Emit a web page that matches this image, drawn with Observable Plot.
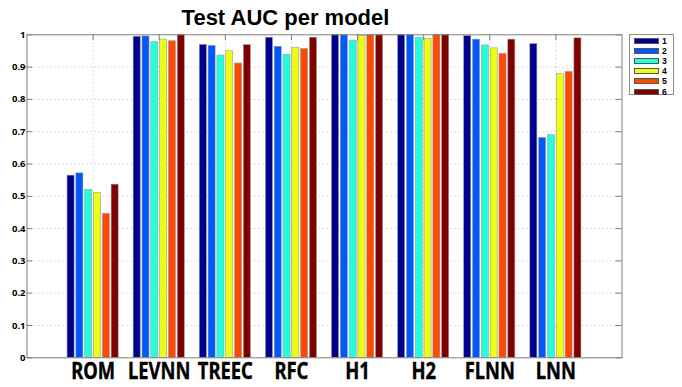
<!DOCTYPE html>
<html>
<head>
<meta charset="utf-8">
<script src="https://cdn.jsdelivr.net/npm/d3@7"></script>
<script src="https://cdn.jsdelivr.net/npm/@observablehq/plot@0.6"></script>
<style>
  html, body { margin: 0; padding: 0; background: #fff; }
  #wrap { position: relative; width: 682px; height: 387px; overflow: hidden; font-family: "Liberation Sans", Arial, sans-serif; }
  #wrap svg { position: absolute; left: 0; top: 0; }
  #title { position: absolute; top: 7px; left: 0; width: 571px; text-align: center; font-size: 22px; line-height: 22px; font-weight: bold; color: #000; }
  #legend { position: absolute; left: 629px; top: 34px; width: 45px; height: 61px; border: 1px solid #8a8a8a; background: #fff; box-sizing: border-box; }
  .sw { position: absolute; width: 25px; height: 6px; border: 0.6px solid #555; box-sizing: border-box; }
  .lb { position: absolute; font-size: 8.6px; font-weight: bold; line-height: 8.6px; color: #000; }
</style>
</head>
<body>
<div id="wrap">
  <div id="title">Test AUC per model</div>
  <div id="legend"></div>
</div>
<script>
// ---- data ----
const models = ["ROM", "LEVNN", "TREEC", "RFC", "H1", "H2", "FLNN", "LNN"];
const seriesNames = ["1", "2", "3", "4", "5", "6"];
const auc1 = [0.564, 0.994, 0.969, 0.991, 1.000, 1.000, 0.996, 0.971];
const auc2 = [0.571, 0.995, 0.966, 0.963, 0.999, 1.000, 0.985, 0.681];
const auc3 = [0.520, 0.977, 0.936, 0.938, 0.982, 0.990, 0.967, 0.689];
const auc4 = [0.511, 0.985, 0.949, 0.960, 0.996, 0.988, 0.958, 0.878];
const auc5 = [0.446, 0.980, 0.911, 0.956, 1.000, 1.000, 0.941, 0.885];
const auc6 = [0.536, 1.000, 0.968, 0.991, 1.000, 1.000, 0.985, 0.989];
const yTicks = [0, 0.1, 0.2, 0.3, 0.4, 0.5, 0.6, 0.7, 0.8, 0.9, 1];
const colors = ["#00008F", "#0059FF", "#23FFDC", "#ECFF13", "#FF4900", "#800000"];

// ---- table ----
const allSeries = [auc1, auc2, auc3, auc4, auc5, auc6];
const groupPos = models.map((m, i) => i + 1);
const pitch = 0.8 / seriesNames.length;
const barW = 0.8 * pitch;
const rows = [];
models.forEach((m, g) => {
  allSeries.forEach((vals, s) => {
    const c = (g + 1) + (s - (seriesNames.length - 1) / 2) * pitch;
    rows.push({model: m, series: seriesNames[s], value: vals[g], x1: c - barW / 2, x2: c + barW / 2});
  });
});

const W = 682, H = 387;
const mL = 26.5, mR = 60.5, mT = 34.3, mB = 29.7;
const pw = W - mL - mR, ph = H - mT - mB;
const tick = 6;
const axisGray = "#7f7f7f";

const chart = Plot.plot({
  width: W,
  height: H,
  marginLeft: mL,
  marginRight: mR,
  marginTop: mT,
  marginBottom: mB,
  style: {background: "transparent", overflow: "visible"},
  x: {type: "linear", domain: [0, 9], axis: null},
  y: {domain: [0, 1], axis: null},
  color: {domain: seriesNames, range: colors},
  marks: [
    Plot.ruleY(yTicks.slice(1, -1), {stroke: "#b8b8b8", strokeWidth: 1, strokeDasharray: "1,3"}),
    Plot.ruleX(groupPos, {stroke: "#b8b8b8", strokeWidth: 1, strokeDasharray: "1,3"}),
    Plot.rectY(rows, {x1: "x1", x2: "x2", y1: 0, y2: "value", fill: "series", stroke: "#9a9a9a", strokeWidth: 0.6}),
    Plot.ruleY(yTicks, {stroke: axisGray, insetRight: pw - tick}),
    Plot.ruleY(yTicks, {stroke: axisGray, insetLeft: pw - tick}),
    Plot.ruleX(groupPos, {stroke: axisGray, insetBottom: ph - tick}),
    Plot.frame({stroke: axisGray, strokeWidth: 1}),
    Plot.axisY({ticks: yTicks, tickSize: 0, tickPadding: 1.5, fontSize: 9.5, fontWeight: "bold", fill: "#000",
      label: null, tickFormat: d => String(+d.toFixed(1))}),
    Plot.axisX({ticks: groupPos, tickSize: 0, tickPadding: 4.5, fontSize: 23, fontWeight: "bold", fill: "#000",
      label: null, tickFormat: d => models[Math.round(d) - 1]})
  ]
});

const wrap = document.getElementById("wrap");
wrap.insertBefore(chart, wrap.firstChild);

// condense the big category labels horizontally
chart.querySelectorAll('g[aria-label="x-axis tick label"] text').forEach(t => {
  const tr = t.getAttribute("transform") || "";
  t.setAttribute("transform", tr + " scale(0.8,1)");
  t.setAttribute("stroke", "#000");
  t.setAttribute("stroke-width", "0.4");
});

// legend
const legend = document.getElementById("legend");
seriesNames.forEach((s, i) => {
  const sw = document.createElement("div");
  sw.className = "sw";
  sw.style.left = "4px";
  sw.style.top = (3 + i * 10.1) + "px";
  sw.style.background = colors[i];
  legend.appendChild(sw);
  const lb = document.createElement("div");
  lb.className = "lb";
  lb.style.left = "32px";
  lb.style.top = (2 + i * 10.1) + "px";
  lb.textContent = s;
  legend.appendChild(lb);
});
</script>
</body>
</html>
